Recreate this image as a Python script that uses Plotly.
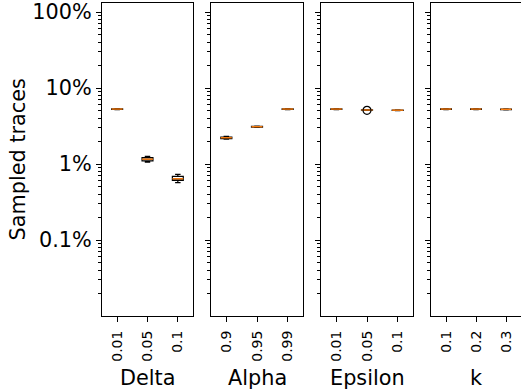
import plotly.graph_objects as go

# ---- data (fractions of traces sampled) ----
panel_titles = ["Delta", "Alpha", "Epsilon", "k"]
delta_labels = ["0.01", "0.05", "0.1"]
alpha_labels = ["0.9", "0.95", "0.99"]
epsilon_labels = ["0.01", "0.05", "0.1"]
k_labels = ["0.1", "0.2", "0.3"]

delta_q1 = [0.0526, 0.0110, 0.0061]
delta_med = [0.0530, 0.0116, 0.0064]
delta_q3 = [0.0534, 0.0122, 0.0069]
delta_lo = [0.0522, 0.0106, 0.0057]
delta_hi = [0.0538, 0.0126, 0.0073]

alpha_q1 = [0.0216, 0.0306, 0.0526]
alpha_med = [0.0222, 0.0310, 0.0530]
alpha_q3 = [0.0227, 0.0314, 0.0534]
alpha_lo = [0.0212, 0.0303, 0.0522]
alpha_hi = [0.0231, 0.0317, 0.0538]

eps_q1 = [0.0526, 0.0512, 0.0509]
eps_med = [0.0530, 0.0515, 0.0512]
eps_q3 = [0.0534, 0.0518, 0.0515]
eps_lo = [0.0522, 0.0510, 0.0506]
eps_hi = [0.0538, 0.0520, 0.0518]
eps_outlier_pos = [2]
eps_outlier_val = [0.0510]

k_q1 = [0.0526, 0.0526, 0.0522]
k_med = [0.0530, 0.0530, 0.0526]
k_q3 = [0.0534, 0.0534, 0.0530]
k_lo = [0.0522, 0.0522, 0.0518]
k_hi = [0.0538, 0.0538, 0.0534]

ytick_vals = [0.001, 0.01, 0.1, 1]
ytick_text = ["0.1%", "1%", "10%", "100%"]
y_title = "Sampled traces"

positions = [1, 2, 3]
BOX_W = 0.36
FONT = "DejaVu Sans"
BIG = 20.8
SMALL = 14

panels = [
    (delta_labels, delta_q1, delta_med, delta_q3, delta_lo, delta_hi),
    (alpha_labels, alpha_q1, alpha_med, alpha_q3, alpha_lo, alpha_hi),
    (epsilon_labels, eps_q1, eps_med, eps_q3, eps_lo, eps_hi),
    (k_labels, k_q1, k_med, k_q3, k_lo, k_hi),
]

fig = go.Figure()

L, R, T, B = 102, 0, 3, 76
W, H = 521, 392
pw = W - L - R
ph = H - T - B
edges = [(102, 193), (211, 303), (321, 413), (431, 521)]
domains = [[(a - L) / pw, min((b - L) / pw, 1.0)] for a, b in edges]

minor_vals = [m * 10 ** e for e in range(-5, 1) for m in range(2, 10)]

for i, (labels, q1, med, q3, lo, hi) in enumerate(panels):
    xa = "x" if i == 0 else f"x{i+1}"
    ya = "y" if i == 0 else f"y{i+1}"
    fig.add_trace(go.Box(
        x=positions, q1=q1, median=med, q3=q3, lowerfence=lo, upperfence=hi,
        width=BOX_W, whiskerwidth=0.5,
        line=dict(color="black", width=1.2),
        fillcolor="rgba(0,0,0,0)",
        xaxis=xa, yaxis=ya, showlegend=False, hoverinfo="skip",
    ))
    # orange median lines
    mx, my = [], []
    for p, m in zip(positions, med):
        mx += [p - BOX_W / 2, p + BOX_W / 2, None]
        my += [m, m, None]
    fig.add_trace(go.Scatter(
        x=mx, y=my, mode="lines", line=dict(color="#ff7f0e", width=1.4),
        xaxis=xa, yaxis=ya, showlegend=False, hoverinfo="skip",
    ))
    if i == 2:
        fig.add_trace(go.Scatter(
            x=eps_outlier_pos, y=eps_outlier_val, mode="markers",
            marker=dict(symbol="circle-open", size=8, color="black",
                        line=dict(width=1.2)),
            xaxis=xa, yaxis=ya, showlegend=False, hoverinfo="skip",
        ))

    xkey = "xaxis" if i == 0 else f"xaxis{i+1}"
    ykey = "yaxis" if i == 0 else f"yaxis{i+1}"
    fig.update_layout(**{
        xkey: dict(
            domain=domains[i], anchor=ya, range=[0.5, 3.5],
            tickmode="array", tickvals=positions, ticktext=labels,
            tickangle=-90, ticks="outside", ticklen=5, tickwidth=1,
            tickcolor="black", showline=True, mirror=True,
            linecolor="black", linewidth=1, showgrid=False, zeroline=False,
            ticklabelstandoff=3,
            tickfont=dict(family=FONT, size=SMALL, color="black"),
        ),
        ykey: dict(
            type="log", range=[-4.0, 0.12], anchor=xa,
            tickmode="array", tickvals=ytick_vals, ticktext=ytick_text,
            showticklabels=(i == 0),
            ticks="outside", ticklen=5, tickwidth=1, tickcolor="black",
            minor=dict(tickmode="array", tickvals=minor_vals, ticks="outside",
                       ticklen=3, tickwidth=0.8, tickcolor="black",
                       showgrid=False),
            showline=True, mirror=True, linecolor="black", linewidth=1,
            showgrid=False, zeroline=False,
            tickfont=dict(family=FONT, size=BIG, color="black"),
            **({} if i == 0 else {"matches": "y"}),
        ),
    })
    # x-axis title as aligned annotation
    fig.add_annotation(
        text=panel_titles[i], xref=f"{xa} domain", x=0.5,
        yref="paper", y=-(378 - (T + ph)) / ph, yanchor="middle",
        xanchor="center", showarrow=False,
        font=dict(family=FONT, size=BIG, color="black"),
    )

fig.add_annotation(
    text=y_title, xref="paper", x=-(L - 17) / pw, xanchor="center",
    yref="paper", y=0.5, yanchor="middle", textangle=-90, showarrow=False,
    font=dict(family=FONT, size=BIG, color="black"),
)

fig.update_layout(
    width=W, height=H, margin=dict(l=L, r=R, t=T, b=B),
    plot_bgcolor="white", paper_bgcolor="white",
    font=dict(family=FONT, color="black"),
)

fig.write_html("out.html")
